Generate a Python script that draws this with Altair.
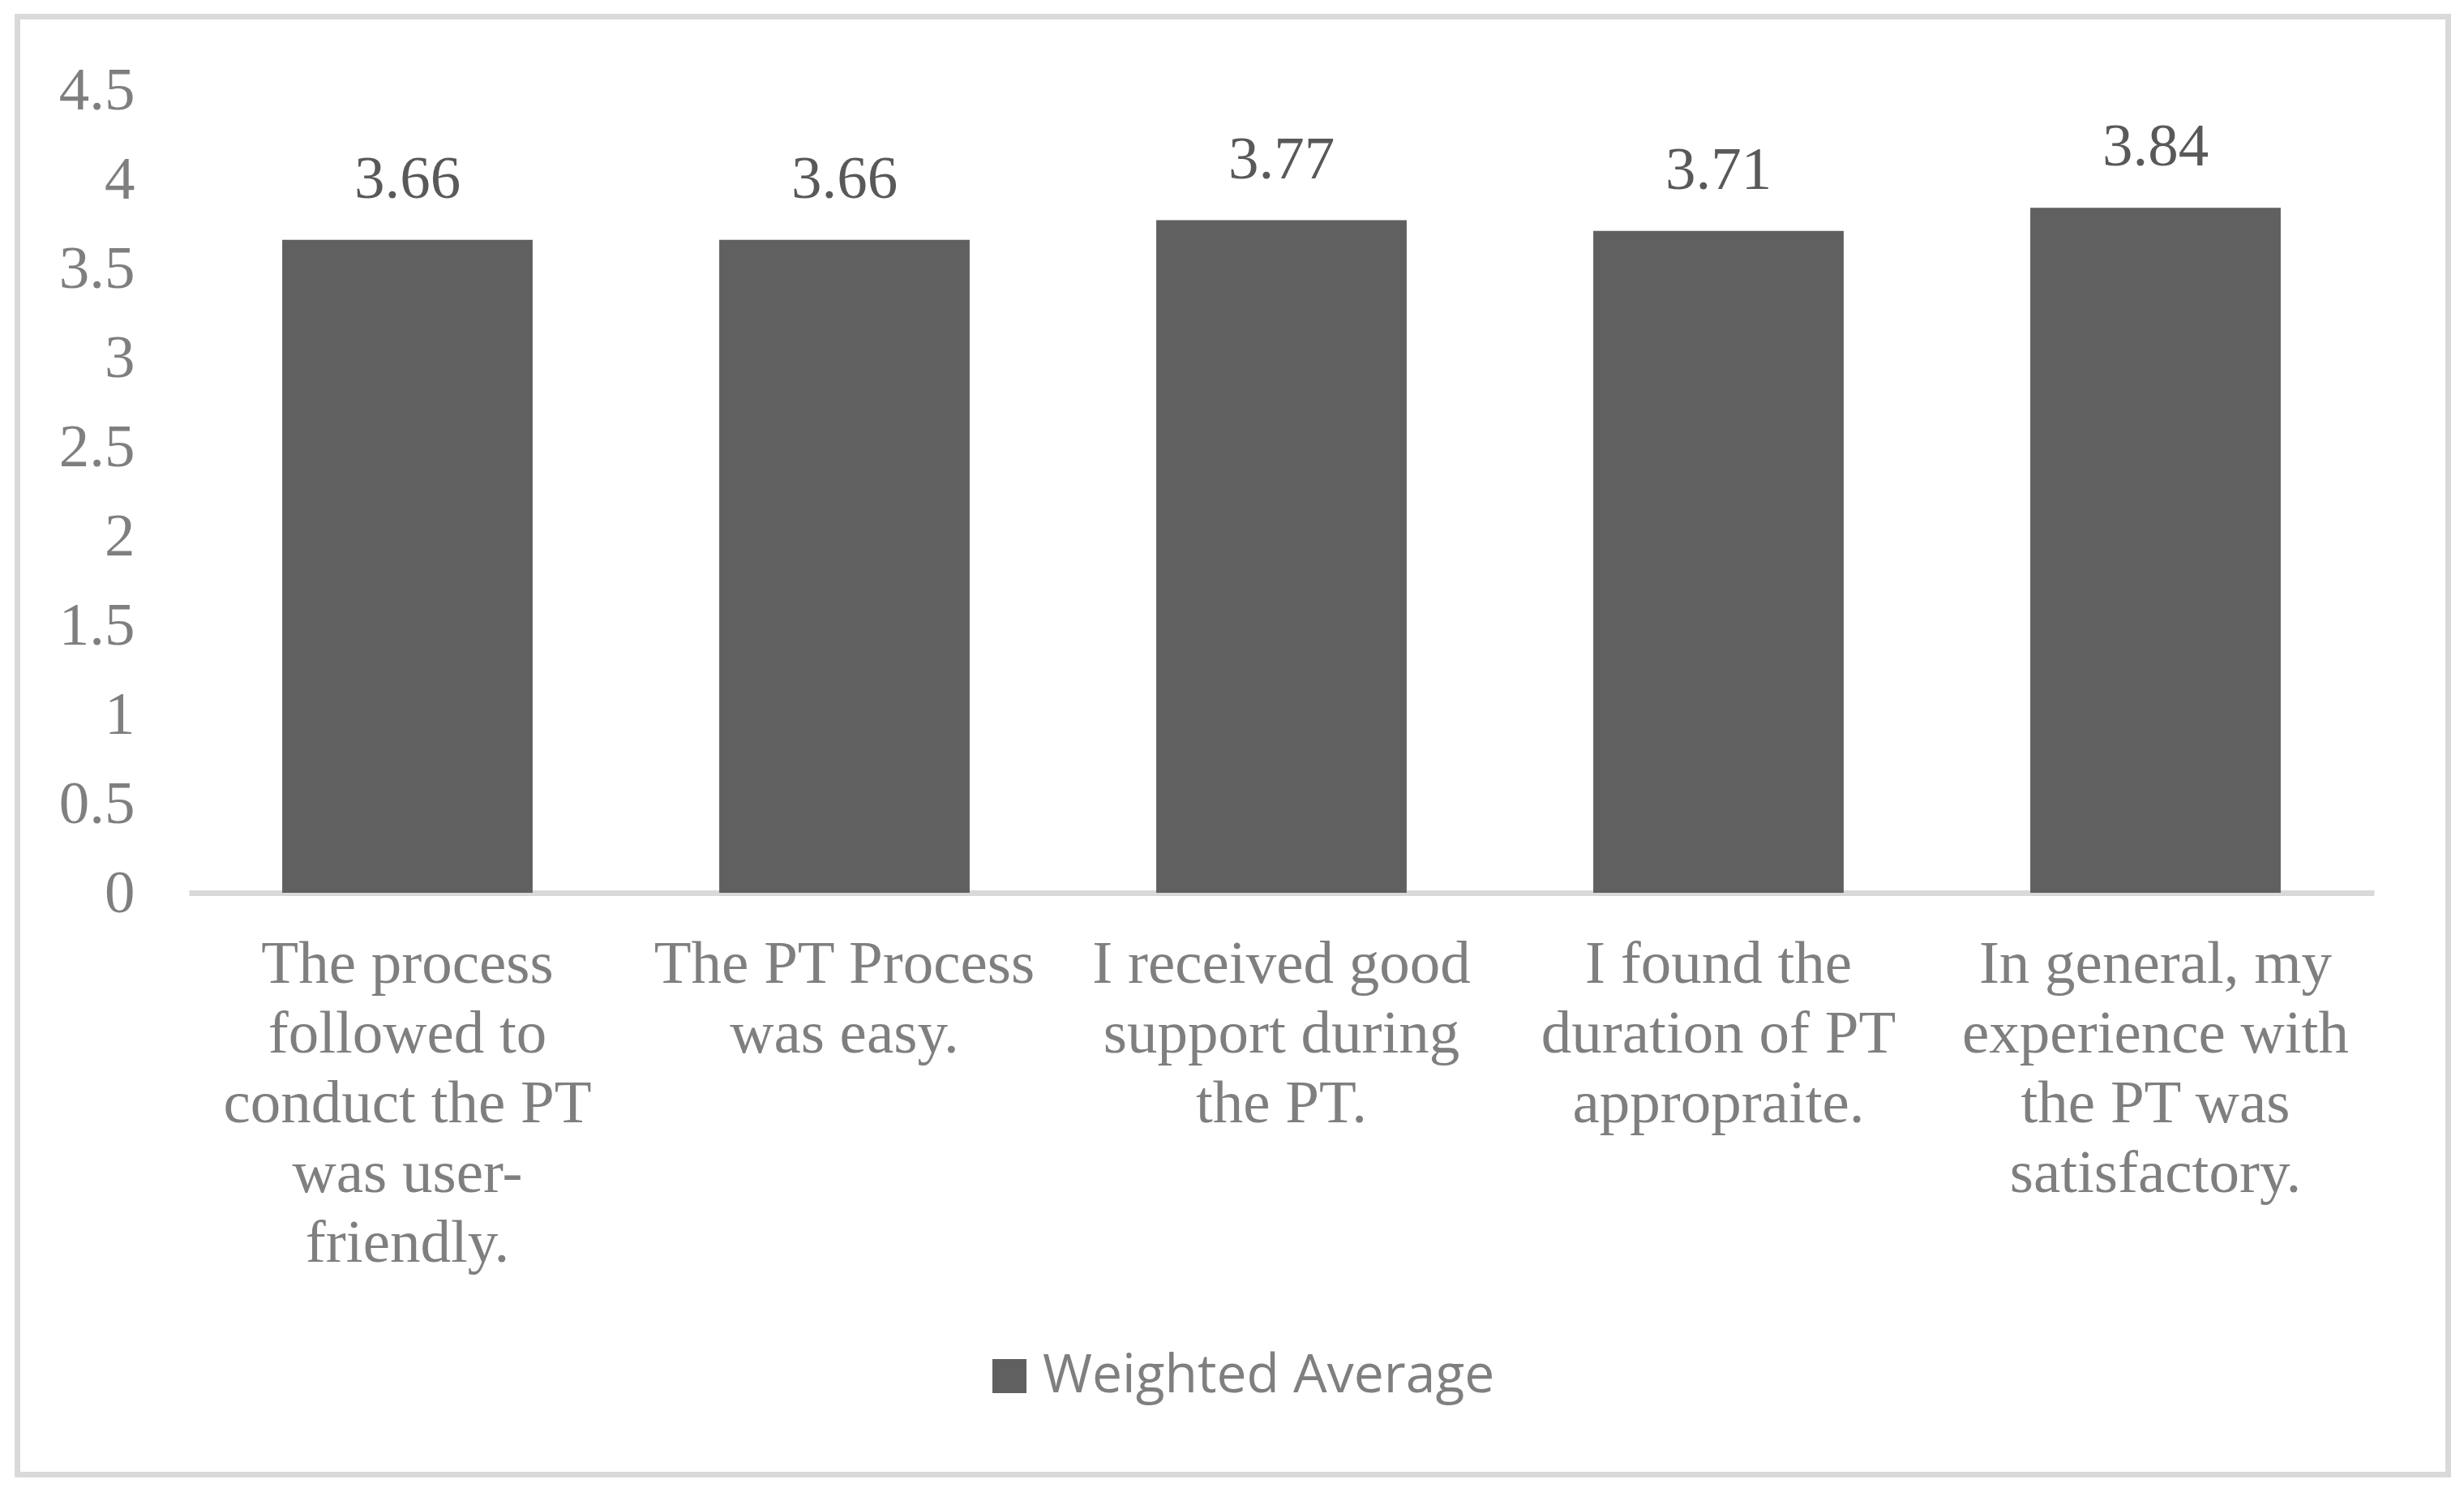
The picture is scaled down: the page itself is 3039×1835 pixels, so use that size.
import altair as alt
import pandas as pd

# ---- data ----
category_lines = [
    ["The process", "followed to", "conduct the PT", "was user-", "friendly."],
    ["The PT Process", "was easy."],
    ["I received good", "support during", "the PT."],
    ["I found the", "duration of PT", "appropraite."],
    ["In general, my", "experience with", "the PT was", "satisfactory."],
]
values = [3.66, 3.66, 3.77, 3.71, 3.84]
series_name = "Weighted Average"
y_ticks = [0, 0.5, 1, 1.5, 2, 2.5, 3, 3.5, 4, 4.5]

categories = ["|".join(lines) for lines in category_lines]
df = pd.DataFrame({"cat": categories, "value": values, "series": [series_name] * len(values)})

SERIF = "Liberation Serif"
SANS = "Open Sans"
AXIS_GRAY = "#7f7f7f"
BAR = "#606060"
FRAME = "#d9d9d9"

W, H = 2695, 990

x_enc = alt.X(
    "cat:N",
    sort=categories,
    scale=alt.Scale(paddingInner=0.427, paddingOuter=0.2135),
    axis=alt.Axis(
        title=None,
        labelExpr="split(datum.label, '|')",
        labelFont=SERIF,
        labelFontSize=75,
        labelColor=AXIS_GRAY,
        labelLineHeight=86,
        labelAngle=0,
        labelPadding=51,
        labelLimit=1000,
        ticks=False,
        tickSize=0,
        domain=True,
        domainColor=FRAME,
        domainWidth=7,
        grid=False,
    ),
)

y_enc = alt.Y(
    "value:Q",
    scale=alt.Scale(domain=[0, 4.5], nice=False, zero=True),
    axis=alt.Axis(
        title=None,
        values=y_ticks,
        format=".1~f",
        labelFont=SERIF,
        labelFontSize=75,
        labelColor=AXIS_GRAY,
        labelPadding=67,
        ticks=False,
        tickSize=0,
        domain=False,
        grid=False,
    ),
)

frame = alt.Chart(pd.DataFrame({"f": [0]})).mark_rect(
    fillOpacity=0, stroke=FRAME, strokeWidth=7
).encode(
    x=alt.value(-211.5),
    x2=alt.value(2786.5),
    y=alt.value(-90.5),
    y2=alt.value(1707.5),
)

bars = alt.Chart(df).mark_bar().encode(
    x=x_enc,
    y=y_enc,
    color=alt.Color(
        "series:N",
        scale=alt.Scale(range=[BAR]),
        legend=alt.Legend(
            title=None,
            orient="none",
            legendX=979,
            legendY=1553,
            symbolType="square",
            symbolSize=1764,
            symbolStrokeWidth=0,
            symbolOpacity=1,
            labelFont=SANS,
            labelFontSize=66,
            labelColor=AXIS_GRAY,
            labelOffset=8,
            labelLimit=1000,
            padding=0,
        ),
    ),
)

labels = alt.Chart(df).mark_text(
    font=SERIF, fontSize=75, color="#595959", baseline="alphabetic", dy=-52
).encode(
    x=alt.X("cat:N", sort=categories),
    y=alt.Y("value:Q"),
    text=alt.Text("value:Q", format=".2f"),
)

chart = alt.layer(frame, bars, labels).properties(
    width=W,
    height=H,
    padding={"left": 225, "top": 103, "right": 100, "bottom": 721},
    autosize=alt.AutoSizeParams(type="none"),
    background="white",
).configure_view(stroke=None)

chart.save("out.html", embed_options={"renderer": "svg", "actions": False})
